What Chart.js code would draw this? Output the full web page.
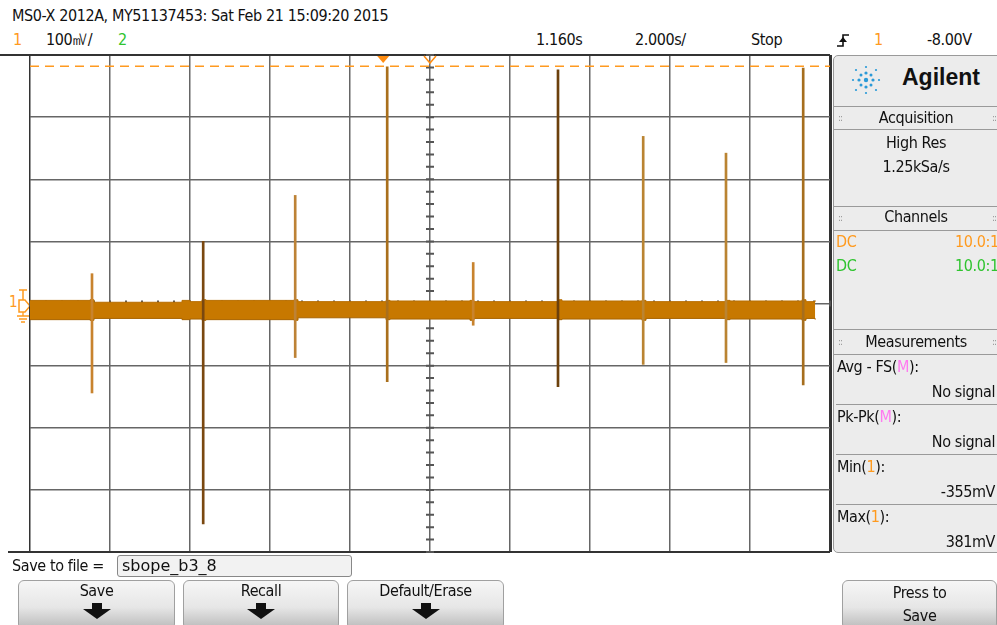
<!DOCTYPE html>
<html>
<head>
<meta charset="utf-8">
<script src="https://cdn.jsdelivr.net/npm/chart.js@4/dist/chart.umd.min.js"></script>
<style>
  body { margin: 0; width: 997px; height: 625px; background: #fff; overflow: hidden; position: relative;
         font-family: "DejaVu Sans Condensed", "Liberation Sans Narrow", sans-serif; font-size: 16px;
         letter-spacing: -0.4px; color: #111; }
  .abs { position: absolute; white-space: nowrap; }
  .or { color: #ff9a1e; }
  .gr { color: #2fc42f; }
  .pk { color: #ff7af0; }
  #plot { position: absolute; left: 20px; top: 45px; width: 820px; height: 517px; }
  #panel { position: absolute; left: 833px; top: 55px; width: 170px; height: 496px; background: #ececec;
           border: 1px solid #9a9a9a; border-radius: 5px; }
  .sep { position: absolute; left: 0; width: 170px; border-top: 1px solid #9a9a9a; }
  .hdr { position: absolute; left: 0; width: 164px; text-align: center; }
  .dots { position: absolute; font-size: 10px; color: #999; letter-spacing: -1px; }
  .rt { position: absolute; right: 9px; text-align: right; white-space: nowrap; }
  .btn { position: absolute; top: 580px; height: 48px; border: 1px solid #a0a0a0; border-radius: 6px;
         background: linear-gradient(#f6f6f6, #e6e6e6 55%, #b9b9b9); text-align: center; line-height: 20px; }
  .arrow { position: absolute; left: 50%; top: 28px; margin-left: -14px; width: 0; height: 0;
           border-left: 14px solid transparent; border-right: 14px solid transparent; border-top: 10px solid #111; }
  .stem { position: absolute; left: 50%; top: 22px; margin-left: -5px; width: 10px; height: 7px; background: #111; }
</style>
</head>
<body>
<div class="abs" style="left:12px;top:6px;">MS0-X 2012A, MY51137453: Sat Feb 21 15:09:20 2015</div>
<div class="abs or" style="left:13px;top:30px;">1</div>
<div class="abs" style="left:46px;top:30px;">100㎷/</div>
<div class="abs gr" style="left:118px;top:30px;">2</div>
<div class="abs" style="left:536px;top:30px;">1.160s</div>
<div class="abs" style="left:635px;top:30px;">2.000s/</div>
<div class="abs" style="left:751px;top:30px;">Stop</div>
<svg class="abs" style="left:836px;top:32px;" width="16" height="16">
  <path d="M1 14 H7 V3 H13" stroke="#111" stroke-width="1.6" fill="none"/>
  <path d="M3 10 L7 5 L11 10 Z" fill="#111"/>
</svg>
<div class="abs or" style="left:874px;top:30px;">1</div>
<div class="abs" style="left:927px;top:30px;">-8.00V</div>

<div class="abs" style="left:0;top:54px;width:30px;border-top:2px solid #333;"></div>
<div class="abs" style="left:8px;top:551px;width:22px;border-top:2px solid #333;"></div>

<div class="abs or" style="left:9px;top:293px;font-size:15px;">1</div>
<svg class="abs" style="left:15px;top:288px;" width="16" height="36">
  <path d="M4 2 H12 M8 2 V12" stroke="#ff9a1e" stroke-width="1.5" fill="none"/>
  <path d="M4 12 H10 L15 18 L10 24 H4 Z" fill="none" stroke="#ff9a1e" stroke-width="1.5"/>
  <path d="M8 24 V28 M2 28 H14 M4 31 H12 M6 34 H10" stroke="#ff9a1e" stroke-width="1.3" fill="none"/>
</svg>

<div id="plot"><canvas id="scope"></canvas></div>

<div id="panel">
  <svg class="abs" style="left:14px;top:6px;" width="36" height="36">
    <g fill="#2a9ad8">
      <circle cx="18" cy="18" r="2.2"/>
      <circle cx="18" cy="11" r="1.6"/><circle cx="18" cy="25" r="1.6"/>
      <circle cx="11" cy="18" r="1.6"/><circle cx="25" cy="18" r="1.6"/>
      <circle cx="13" cy="13" r="1.5"/><circle cx="23" cy="23" r="1.5"/>
      <circle cx="23" cy="13" r="1.5"/><circle cx="13" cy="23" r="1.5"/>
      <circle cx="18" cy="5" r="1.1"/><circle cx="18" cy="31" r="1.1"/>
      <circle cx="5" cy="18" r="1.1"/><circle cx="31" cy="18" r="1.1"/>
      <circle cx="8" cy="8" r="1.1"/><circle cx="28" cy="28" r="1.1"/>
      <circle cx="28" cy="8" r="1.1"/><circle cx="8" cy="28" r="1.1"/>
    </g>
  </svg>
  <div class="abs" style="left:68px;top:8px;font-family:'Liberation Sans','DejaVu Sans',sans-serif;font-weight:bold;font-size:23px;letter-spacing:0;">Agilent</div>
  <div class="sep" style="top:50px;"></div>
  <div class="dots" style="left:4px;top:56px;">::</div><div class="dots" style="left:158px;top:56px;">::</div>
  <div class="hdr" style="top:52px;">Acquisition</div>
  <div class="sep" style="top:73px;"></div>
  <div class="hdr" style="top:77px;">High Res</div>
  <div class="hdr" style="top:101px;">1.25kSa/s</div>
  <div class="sep" style="top:150px;"></div>
  <div class="dots" style="left:4px;top:156px;">::</div><div class="dots" style="left:158px;top:156px;">::</div>
  <div class="hdr" style="top:151px;">Channels</div>
  <div class="sep" style="top:174px;"></div>
  <div class="abs or" style="left:2px;top:176px;">DC</div><div class="abs or" style="left:121px;top:176px;">10.0:1</div>
  <div class="abs gr" style="left:2px;top:200px;">DC</div><div class="abs gr" style="left:121px;top:200px;">10.0:1</div>
  <div class="sep" style="top:273px;"></div>
  <div class="dots" style="left:4px;top:280px;">::</div><div class="dots" style="left:158px;top:280px;">::</div>
  <div class="hdr" style="top:276px;">Measurements</div>
  <div class="sep" style="top:298px;"></div>
  <div class="abs" style="left:3px;top:301px;">Avg - FS(<span class="pk">M</span>):</div>
  <div class="rt" style="top:326px;">No signal</div>
  <div class="sep" style="top:348px;left:2px;width:166px;"></div>
  <div class="abs" style="left:3px;top:351px;">Pk-Pk(<span class="pk">M</span>):</div>
  <div class="rt" style="top:376px;">No signal</div>
  <div class="sep" style="top:398px;left:2px;width:166px;"></div>
  <div class="abs" style="left:3px;top:401px;">Min(<span class="or">1</span>):</div>
  <div class="rt" style="top:426px;">-355mV</div>
  <div class="sep" style="top:448px;left:2px;width:166px;"></div>
  <div class="abs" style="left:3px;top:451px;">Max(<span class="or">1</span>):</div>
  <div class="rt" style="top:476px;">381mV</div>
</div>

<div class="abs" style="left:12px;top:556px;">Save to file =</div>
<div class="abs" style="left:117px;top:555px;width:229px;height:20px;border:1px solid #888;border-radius:3px;background:#f2f2f2;
     font-family:'DejaVu Sans',sans-serif;font-size:16px;letter-spacing:0;line-height:20px;padding-left:4px;">sbope_b3_8</div>
<div class="btn" style="left:18px;width:155px;">Save<div class="stem"></div><div class="arrow"></div></div>
<div class="btn" style="left:183px;width:154px;">Recall<div class="stem"></div><div class="arrow"></div></div>
<div class="btn" style="left:347px;width:155px;">Default/Erase<div class="stem"></div><div class="arrow"></div></div>
<div class="btn" style="left:842px;width:153px;line-height:23px;">Press to<br>Save</div>

<script>
// time across the screen (s, 2 s/div) and channel 1 voltage (mV, 100 mV/div)
const xTicks = [0, 2, 4, 6, 8, 10, 12, 14, 16, 18, 20];
const yTicks = [-400, -300, -200, -100, 0, 100, 200, 300, 400];

// noise band of the trace: top and bottom edge
const bandTimes  = [0, 1.5, 1.6, 3.8, 4.0, 4.3, 4.4, 6.6, 6.7, 8.9, 9.0, 11.0, 11.1, 13.2, 13.3, 15.3, 15.4, 17.4, 17.5, 19.3, 19.4, 19.63];
const bandTop    = [5, 6, 2, 5, 3, 6, 5, 6, 3, 5, 4, 5, 3, 6, 4, 5, 3, 5, 4, 6, 3, 5];
const bandBottom = [-26, -27, -24, -26, -25, -27, -26, -27, -23, -26, -25, -27, -24, -26, -25, -27, -24, -26, -25, -27, -24, -26];

// glitches: time, peak and trough
const spikeTimes  = [1.55, 4.33, 6.63, 8.93, 11.08, 13.2, 15.33, 17.4, 19.33];
const spikeTops   = [48, 100, 174, 381, 66, 376, 269, 242, 379];
const spikeBottom = [-144, -355, -87, -126, -35, -134, -98, -95, -131];

const triggerLevel = 382;
const triggerTime = 8.83;
const delayTime = 10;

const spikeColors = ['#c8832e', '#7a4810', '#bd8236', '#a96f1c', '#c8832e', '#6c400c', '#ba8432', '#ba8432', '#a66e1e'];

const scopeMarks = {
  id: 'scopeMarks',
  beforeDatasetsDraw(chart) {
    const {ctx, scales: {x, y}} = chart;
    const cx = x.getPixelForValue(delayTime), cy = y.getPixelForValue(0);
    ctx.save();
    ctx.strokeStyle = '#555';
    ctx.lineWidth = 2;
    ctx.beginPath();
    for (let v = -400; v <= 400; v += 20) {
      const py = y.getPixelForValue(v);
      ctx.moveTo(cx - 4, py); ctx.lineTo(cx + 4, py);
    }
    for (let t = 0; t <= 20; t += 0.4) {
      const px = x.getPixelForValue(t);
      ctx.moveTo(px, cy - 3); ctx.lineTo(px, cy + 3);
    }
    ctx.stroke();
    ctx.restore();
  },
  afterDraw(chart) {
    const {ctx, chartArea, scales: {x}} = chart;
    const top = chartArea.top;
    ctx.save();
    const tx = x.getPixelForValue(triggerTime);
    ctx.fillStyle = '#ff8c10';
    ctx.beginPath();
    ctx.moveTo(tx - 6, top + 1); ctx.lineTo(tx + 6, top + 1); ctx.lineTo(tx, top + 8); ctx.closePath();
    ctx.fill();
    const dx = x.getPixelForValue(delayTime);
    ctx.strokeStyle = '#ff8c10';
    ctx.lineWidth = 1.5;
    ctx.beginPath();
    ctx.moveTo(dx - 6, top + 1); ctx.lineTo(dx, top + 8); ctx.lineTo(dx + 6, top + 1);
    ctx.stroke();
    ctx.restore();
  }
};

new Chart(document.getElementById('scope'), {
  type: 'line',
  data: {
    datasets: [
      {
        label: 'band top',
        data: bandTimes.map((t, i) => ({x: t, y: bandTop[i]})),
        borderColor: '#b86e00', borderWidth: 1, pointRadius: 0, stepped: true, fill: false, order: 3
      },
      {
        label: 'band bottom',
        data: bandTimes.map((t, i) => ({x: t, y: bandBottom[i]})),
        borderColor: '#a86400', borderWidth: 1, pointRadius: 0, stepped: true,
        fill: '-1', backgroundColor: '#c77800', order: 3
      },
      {
        type: 'bar',
        label: 'glitches',
        data: spikeTimes.map((t, i) => ({x: t, y: [spikeBottom[i], spikeTops[i]]})),
        backgroundColor: spikeColors,
        barThickness: 2,
        order: 1
      },
      {
        label: 'trigger level',
        data: [{x: 0, y: triggerLevel}, {x: 20, y: triggerLevel}],
        borderColor: '#ff9a20', borderWidth: 1.5, borderDash: [9, 6], pointRadius: 0, order: 0
      }
    ]
  },
  options: {
    responsive: true,
    maintainAspectRatio: false,
    animation: false,
    layout: { padding: 10 },
    plugins: { legend: { display: false }, tooltip: { enabled: false } },
    scales: {
      x: {
        type: 'linear', min: 0, max: 20, offset: false,
        afterBuildTicks: s => { s.ticks = xTicks.map(v => ({value: v})); },
        ticks: { display: false },
        grid: {
          offset: false, drawTicks: false,
          color: c => (c.tick && (c.tick.value === 0 || c.tick.value === 20)) ? '#333' : '#666',
          lineWidth: c => (c.tick && c.tick.value === 20) ? 3 : 1.5
        },
        border: { display: false }
      },
      y: {
        min: -400, max: 400,
        afterBuildTicks: s => { s.ticks = yTicks.map(v => ({value: v})); },
        ticks: { display: false },
        grid: {
          drawTicks: false,
          color: c => (c.tick && Math.abs(c.tick.value) === 400) ? '#333' : '#666',
          lineWidth: c => (c.tick && Math.abs(c.tick.value) === 400) ? 2 : 1.5
        },
        border: { display: false }
      }
    }
  },
  plugins: [scopeMarks]
});
</script>
</body>
</html>
